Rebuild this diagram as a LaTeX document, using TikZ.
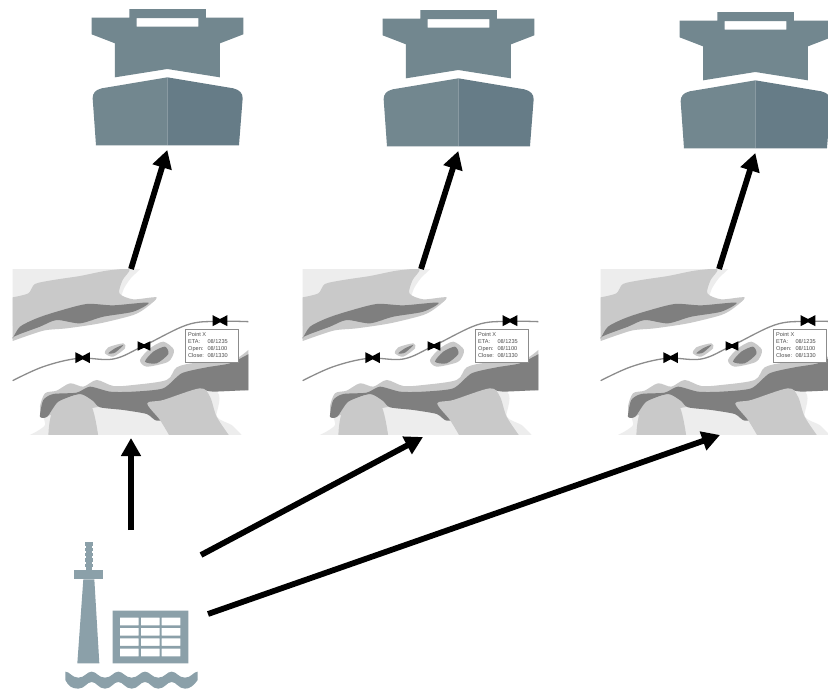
\documentclass[tikz,border=0pt]{standalone}
\usepackage{fontspec}
\setmainfont{Liberation Sans}
\usetikzlibrary{arrows.meta}
\definecolor{shipA}{HTML}{72878F}
\definecolor{shipB}{HTML}{667C87}
\definecolor{stn}{HTML}{8BA0A9}
\definecolor{mapL}{HTML}{EDEDED}
\definecolor{mapM}{HTML}{C9C9C9}
\definecolor{mapD}{HTML}{7F7F7F}
\definecolor{route}{HTML}{8C8C8C}
\tikzset{
  link/.style={line width=5.8pt,-{Triangle[length=18pt,width=19pt]}},
  smoothfill/.style={smooth cycle,tension=0.45},
  maptext/.style={font=\fontsize{5.6}{6.6}\selectfont,text=black!70,inner sep=0pt,anchor=west},
}
\newcommand{\shipicon}[2]{%
\begin{scope}[shift={(#1)},x=.3333pt,y=-.3333pt]
  \fill[shipA,even odd rule] (178,27)--(408,27)--(408,53)--(520,53)--(520,103)--(450,130)--(450,232)--(292,207)--(135,232)--(135,130)--(65,103)--(65,53)--(178,53)--cycle
     (200,54)--(385,54)--(385,80)--(200,80)--cycle;
  \fill[shipA] (292,232)--(95,265) .. controls (75,270) and (68,280) .. (68,295) -- (78,436)--(292,436)--cycle;
  \fill[shipB] (292,232)--(490,265) .. controls (510,270) and (518,280) .. (518,295) -- (507,436)--(292,436)--cycle;
  \coordinate (#2) at (292,450);
\end{scope}}
\newcommand{\mapicon}[2]{%
\begin{scope}[shift={(#1)},x=.3333pt,y=-.3333pt]
  \begin{scope}
  \clip (38,28) rectangle (745,525);
  % upper land
  \fill[mapL] (30,20) -- (420,20) -- (420,28) -- plot[smooth,tension=.4] coordinates {(420,28)(392,55)(372,85)(362,115)} -- (200,150) -- (30,200) -- cycle;
  \fill[mapM] (30,112) -- plot[smooth,tension=.45] coordinates {(38,112)(85,100)(105,72)(160,60)(240,48)(320,32)(388,28)(368,60)(358,100)(400,118)(470,112)(440,142)(400,165)(300,190)(200,205)(130,212)(38,243)} -- (30,243) -- cycle;
  \fill[mapD] (30,240) -- plot[smooth,tension=.45] coordinates {(38,236)(60,200)(110,175)(170,155)(260,132)(340,136)(445,128)(400,155)(310,170)(240,190)(170,180)(120,200)(60,222)(38,232)} -- cycle;
  % lower land
  \fill[mapL] plot[smooth,tension=.4] coordinates {(90,525)(135,495)(130,430)(300,400)(640,390)(650,470)(695,495)(725,525)} -- cycle;
  \fill[mapM] (745,270) -- plot[smooth,tension=.5] coordinates {(745,270)(690,305)(590,308)(530,322)(500,360)(400,375)(340,378)(290,360)(250,380)(210,370)(170,392)(135,400)(120,440)(125,470)} -- (300,440) -- (600,385) -- (745,392) -- cycle;
  \fill[mapD] plot[smooth,tension=.4] coordinates {(750,280)(690,310)(620,322)(545,340)(490,385)(400,395)(330,395)(270,380)(230,398)(160,402)(130,420)(120,470)(142,470)(175,425)(240,402)(278,422)(300,442)(370,450)(440,462)(470,482)(520,470)(590,392)(640,395)(750,390)} -- cycle;
  \fill[mapM] plot[smooth,tension=.6] coordinates {(145,530)(160,450)(230,405)(275,440)(295,530)} -- cycle;
  \fill[mapM] plot[smooth,tension=.5] coordinates {(510,530)(480,480)(442,430)(490,420)(600,385)(630,410)(650,470)(690,530)} -- cycle;
  \end{scope}
  % islands
  \fill[mapM] plot[smoothfill] coordinates {(315,280)(325,262)(370,250)(375,265)(340,290)};
  \fill[mapD] plot[smoothfill] coordinates {(325,280)(345,265)(370,255)(345,278)};
  \fill[mapM] plot[smoothfill] coordinates {(420,300)(450,265)(490,245)(522,270)(505,305)(440,320)};
  \fill[mapD] plot[smoothfill] coordinates {(435,305)(460,275)(495,260)(505,282)(470,310)};
  % route
  \draw[route,line width=1.3pt] plot[smooth,tension=.6] coordinates {(38,362)(130,320)(235,295)(340,297)(430,258)(560,195)(650,184)(745,185)};
  % valves
  \foreach \vx/\vy/\vs in {248/293/1.1,432/258/.95,660/182/1.1}{
    \fill[black] (\vx-20*\vs,\vy-15*\vs)--(\vx,\vy-5)--(\vx+20*\vs,\vy-15*\vs)--(\vx+20*\vs,\vy+15*\vs)--(\vx,\vy+5)--(\vx-20*\vs,\vy+15*\vs)--cycle;
  }
  % callout
  \draw[fill=white,draw=black!45,line width=.7pt] (555,207) rectangle (716,306);
  \node[maptext] at (564,222) {Point X};
  \node[maptext] at (564,245) {ETA:};
  \node[maptext] at (622,245) {08/1235};
  \node[maptext] at (564,267) {Open:};
  \node[maptext] at (622,267) {08/1100};
  \node[maptext] at (564,288) {Close:};
  \node[maptext] at (622,288) {08/1330};
  \coordinate (#2t) at (393,28);
  \coordinate (#2b) at (393,532);
\end{scope}}
\begin{document}
\begin{tikzpicture}[x=1pt,y=-1pt]
\useasboundingbox (0,0) rectangle (828,689);
\fill[white] (0,0) rectangle (828,689);
% ships
\shipicon{70,0}{shipa}
\shipicon{361,1}{shipb}
\shipicon{658,3}{shipc}
% maps
\mapicon{0,260}{mapa}
\mapicon{290,260}{mapb}
\mapicon{588,260}{mapc}
% station
\begin{scope}[shift={(50,530)},x=.3333pt,y=-.3333pt]
  \fill[stn] (108,37)--(126,37)--(126,120)--(108,120)--cycle;
  \foreach \ry in {42,58,74,90,106}{\fill[stn] (104,\ry-5) rectangle (130,\ry+5);}
  \fill[stn] (72,120) rectangle (160,148);
  \fill[stn] (100,148)--(133,148)--(148,400)--(82,400)--cycle;
  \fill[stn,even odd rule] (188,242) rectangle (415,400)
    \foreach \wx in {210,273,335}{\foreach \wy in {263,294,325,356}{(\wx,\wy) rectangle ++(56,23)}};
  \fill[stn] (46,425) .. controls (60,425) and (65,443) .. (85,443)
     .. controls (105,443) and (110,425) .. (125,425)
     .. controls (140,425) and (145,443) .. (165,443)
     .. controls (185,443) and (190,425) .. (205,425)
     .. controls (220,425) and (225,443) .. (245,443)
     .. controls (265,443) and (270,425) .. (285,425)
     .. controls (300,425) and (305,443) .. (325,443)
     .. controls (345,443) and (350,425) .. (365,425)
     .. controls (380,425) and (385,443) .. (405,443)
     .. controls (425,443) and (430,425) .. (443,425)
     -- (443,450)
     .. controls (430,468) and (420,476) .. (405,476)
     .. controls (385,476) and (380,456) .. (365,456)
     .. controls (350,456) and (345,476) .. (325,476)
     .. controls (305,476) and (300,456) .. (285,456)
     .. controls (270,456) and (265,476) .. (245,476)
     .. controls (225,476) and (220,456) .. (205,456)
     .. controls (190,456) and (185,476) .. (165,476)
     .. controls (145,476) and (140,456) .. (125,456)
     .. controls (110,456) and (105,476) .. (85,476)
     .. controls (65,476) and (55,468) .. (46,450) -- cycle;
\end{scope}
% connector anchors
\coordinate (stnA) at (131,530);
\coordinate (stnB) at (201,555);
\coordinate (stnC) at (208,614);
\coordinate (mapbIn) at (423,437);
\coordinate (mapcIn) at (720,435);
\coordinate (mapaIn) at (131,438);
\coordinate (mapaOut) at (131,269);
\coordinate (mapbOut) at (421,269);
\coordinate (mapcOut) at (719,269);
\draw[link] (mapaOut) -- (shipa);
\draw[link] (mapbOut) -- (shipb);
\draw[link] (mapcOut) -- (shipc);
\draw[link] (stnA) -- (mapaIn);
\draw[link] (stnB) -- (mapbIn);
\draw[link] (stnC) -- (mapcIn);
\end{tikzpicture}
\end{document}
